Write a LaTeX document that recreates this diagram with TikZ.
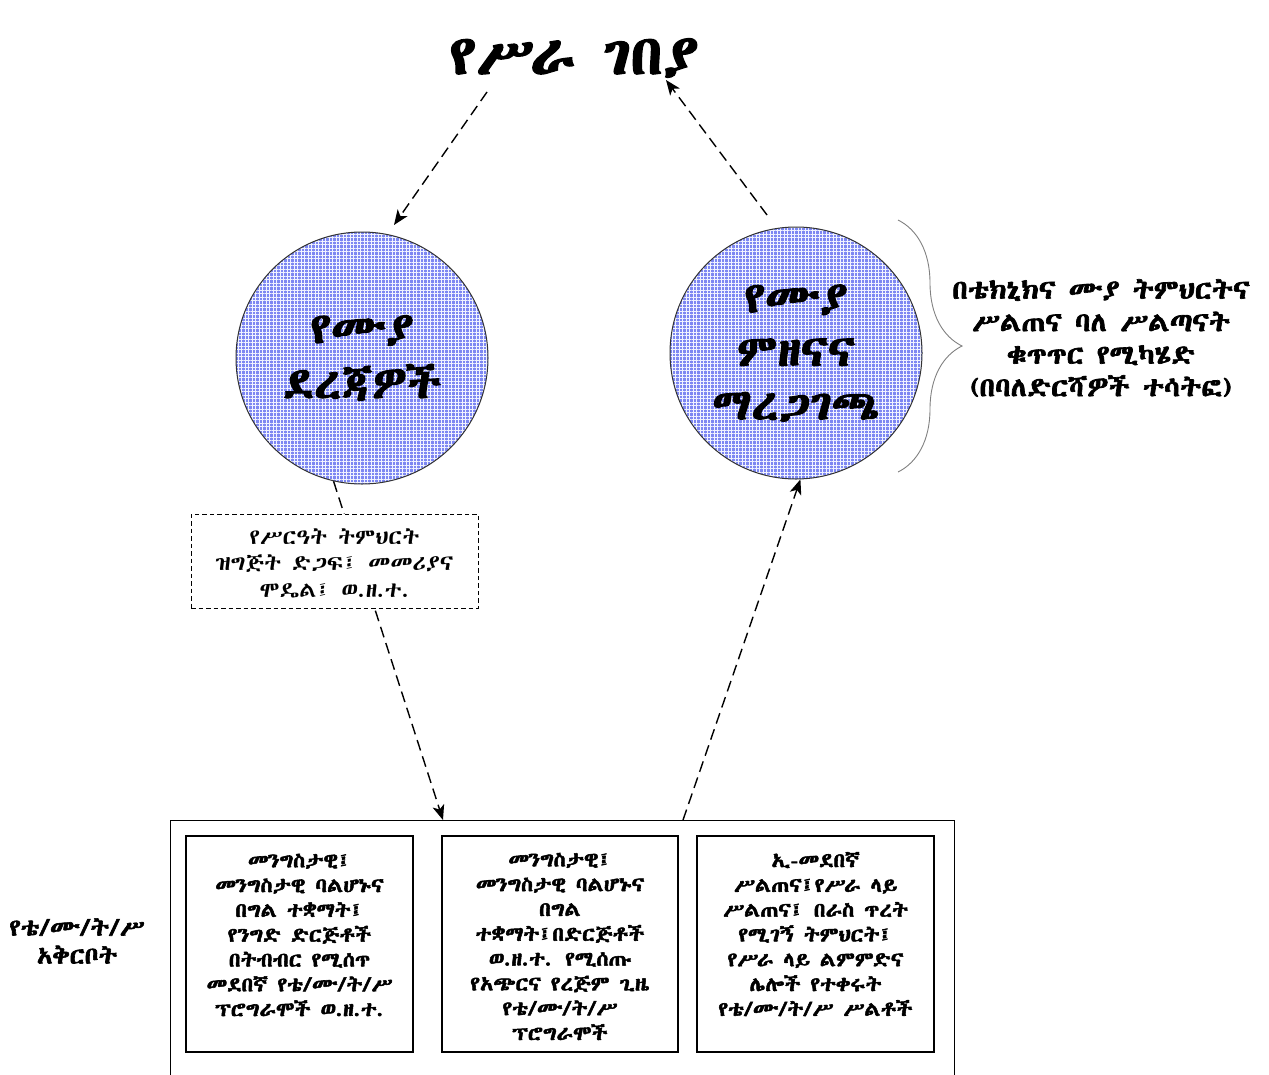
\documentclass[tikz,border=0pt]{standalone}
\usepackage{fontspec}
\usetikzlibrary{arrows.meta,patterns.meta,decorations.pathreplacing}
\newfontfamily\ethR[FakeStretch=1.1]{Abyssinica SIL}
\newfontfamily\ethB[FakeStretch=1.1,FakeBold=2.6]{Abyssinica SIL}
\definecolor{bubblebase}{RGB}{125,135,242}
\definecolor{bubblegrid}{RGB}{240,242,255}
\tikzset{
  dline/.style={dash pattern=on 11pt off 6pt, line width=1.4pt},
  tipend/.style={-{Stealth[length=15pt,width=12pt,inset=4pt]}},
  bubble/.style={circle, draw=black!80, line width=1pt, minimum size=252pt, inner sep=0pt,
    preaction={fill=bubblebase},
    pattern={Hatch[angle=0,distance=3.5pt,line width=0.95pt]}, pattern color=bubblegrid,
    align=center, font=\ethB\fontsize{43}{55}\selectfont},
  inbox/.style={draw, line width=1.6pt, minimum width=227pt, minimum height=216pt, inner sep=0pt},
  intext/.style={align=center, inner sep=0pt, font=\ethB\fontsize{20}{24.8}\selectfont},
}
\begin{document}
\begin{tikzpicture}[x=1pt,y=-1pt]
\useasboundingbox (0,0) rectangle (1269,1074);
% title
\node[font=\ethB\fontsize{55}{60}\selectfont, inner sep=0pt] (title) at (574,58) {የሥራ ገበያ};
% circles
\node[bubble] (c1) at (362,358) {የሙያ\\ደረጃዎች};
\node[bubble, font=\ethB\fontsize{43}{53.5}\selectfont] (c2) at (796,353) {የሙያ\\ምዘናና\\ማረጋገጫ};
% top connectors
\coordinate (t1) at (487,92);
\coordinate (a1) at (394,225);
\coordinate (s2) at (767,215);
\coordinate (t2) at (666,80);
\draw[dline,tipend] (t1) -- (a1);
\draw[dline,tipend] (s2) -- (t2);
% brace and its text
\draw[gray, line width=0.9pt, decorate, decoration={brace, amplitude=64pt, aspect=0.5}] (898,220) -- (898,472);
\node[align=center, inner sep=0pt, font=\ethB\fontsize{26.5}{32.5}\selectfont] (rtext) at (1101,338)
  {በቴክኒክና ሙያ ትምህርትና\\ሥልጠና ባለ ሥልጣናት\\ቁጥጥር የሚካሄድ\\(በባለድርሻዎች ተሳትፎ)};
% big container
\node[draw, line width=0.9pt, minimum width=784pt, minimum height=280pt, inner sep=0pt] (big) at (562,960) {};
\coordinate (b1) at (443,820);
\coordinate (b2) at (683,820);
\draw[dline,tipend] (c1.257) -- (b1);
\draw[dline,tipend] (b2) -- (c2.-88);
% dashed box
\node[draw, fill=white, dash pattern=on 4.5pt off 3pt, line width=1pt, minimum width=287pt, minimum height=94pt,
  inner sep=0pt] (dbox) at (334.5,561) {};
\node[align=center, inner sep=0pt, font=\ethR\fontsize{21.5}{26.5}\selectfont] (dtext) at (334.5,563)
  {የሥርዓት ትምህርት\\ዝግጅት ድጋፍ፤ መመሪያና\\ሞዴል፤ ወ.ዘ.ተ.};
% left label
\node[align=center, inner sep=0pt, font=\ethB\fontsize{23.5}{28}\selectfont] (ltext) at (77,941)
  {የቴ/ሙ/ት/ሥ\\አቅርቦት};
% inner boxes
\node[inbox] (box1) at (299.5,944) {};
\node[inbox, minimum width=236pt] (box2) at (560,944) {};
\node[inbox, minimum width=237pt] (box3) at (815.5,944) {};
\node[intext] (t1x) at (299.5,935) {መንግስታዊ፤\\መንግስታዊ ባልሆኑና\\በግል ተቋማት፤\\የንግድ ድርጅቶች\\በትብብር የሚሰጥ\\መደበኛ የቴ/ሙ/ት/ሥ\\ፕሮግራሞች ወ.ዘ.ተ.};
\node[intext] (t2x) at (560,946.5) {መንግስታዊ፤\\መንግስታዊ ባልሆኑና\\በግል\\ተቋማት፤በድርጅቶች\\ወ.ዘ.ተ. የሚሰጡ\\የአጭርና የረጅም ጊዜ\\የቴ/ሙ/ት/ሥ\\ፕሮግራሞች};
\node[intext] (t3x) at (815.5,934) {ኢ-መደበኛ\\ሥልጠና፤የሥራ ላይ\\ሥልጠና፤ በራስ ጥረት\\የሚገኝ ትምህርት፤\\የሥራ ላይ ልምምድና\\ሌሎች የተቀሩት\\የቴ/ሙ/ት/ሥ ሥልቶች};
\end{tikzpicture}
\end{document}
